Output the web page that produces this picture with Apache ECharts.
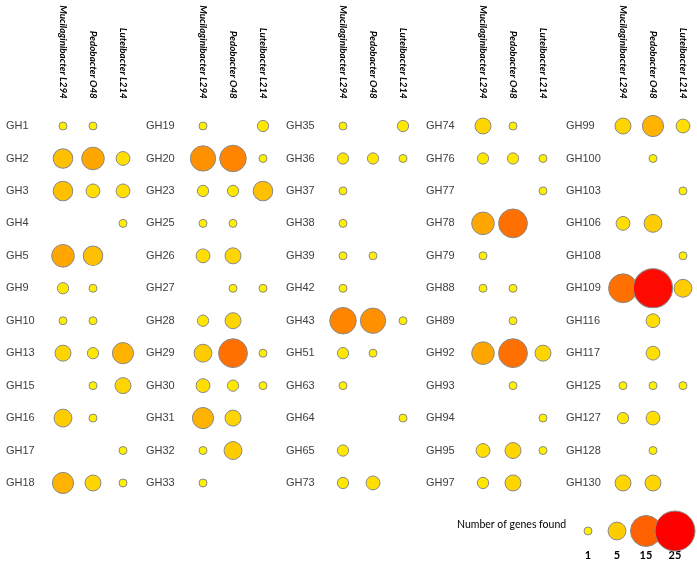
<!DOCTYPE html>
<html>
<head>
<meta charset="utf-8">
<script src="https://cdn.jsdelivr.net/npm/echarts@6/dist/echarts.min.js"></script>
<style>html,body{margin:0;padding:0;background:#fff;}#c{width:697px;height:562px;}</style>
</head>
<body>
<div id="c"></div>
<script>
// Column headers (organisms)
const organisms = ['Mucilaginibacter L294', 'Pedobacter O48', 'Luteibacter L214'];

// GH families, 5 panels of 12
const families = [
  'GH1','GH2','GH3','GH4','GH5','GH9','GH10','GH13','GH15','GH16','GH17','GH18',
  'GH19','GH20','GH23','GH25','GH26','GH27','GH28','GH29','GH30','GH31','GH32','GH33',
  'GH35','GH36','GH37','GH38','GH39','GH42','GH43','GH51','GH63','GH64','GH65','GH73',
  'GH74','GH76','GH77','GH78','GH79','GH88','GH89','GH92','GH93','GH94','GH95','GH97',
  'GH99','GH100','GH103','GH106','GH108','GH109','GH116','GH117','GH125','GH127','GH128','GH130'
];

// Number of genes found (0 = none)
const mucilaginibacter = [
  1,6,6,0,8,2,1,4,0,5,0,7,
  1,10,2,1,3,0,2,5,3,7,1,1,
  1,2,1,1,1,1,11,2,1,0,2,2,
  4,2,0,8,1,1,0,8,0,0,3,2,
  4,0,0,3,0,13,0,0,1,2,0,4
];
const pedobacter = [
  1,8,3,0,6,1,1,2,1,1,0,4,
  0,11,2,1,4,1,4,13,2,4,5,0,
  0,2,0,0,1,0,10,1,0,0,0,3,
  1,2,0,13,0,1,1,13,1,0,4,4,
  7,1,0,5,0,24,3,3,1,3,1,4
];
const luteibacter = [
  0,3,3,1,0,0,0,7,4,0,1,1,
  2,1,6,0,0,1,0,1,1,0,0,0,
  2,1,0,0,0,0,1,0,0,1,0,0,
  0,1,1,0,0,0,0,4,0,1,1,0,
  3,0,1,0,1,5,0,0,1,0,0,0
];

// Size legend
const legendValues = [1, 5, 15, 25];
const legendTitle = 'Number of genes found';

const panels = 5, rowsPerPanel = 12;
const grids = [], xAxes = [], yAxes = [], series = [];
const sizeFn = d => 8 * Math.sqrt(d[2]);
const itemStyle = { borderColor: '#8a8a8a', borderWidth: 1, opacity: 1 };

for (let p = 0; p < panels; p++) {
  grids.push({ left: 48 + 140 * p, top: 109.8, width: 90, height: 389.4, outerBoundsMode: 'none', containLabel: false });
  xAxes.push({
    type: 'category', gridIndex: p, position: 'top', data: organisms,
    axisLine: { show: false }, axisTick: { show: false }, splitLine: { show: false },
    axisLabel: { rotate: 90, interval: 0, margin: 11, fontSize: 9.8, fontStyle: 'italic', fontWeight: 'bold',
      fontFamily: 'Lato, "Liberation Sans", sans-serif', color: '#000' }
  });
  const labels = families.slice(p * rowsPerPanel, (p + 1) * rowsPerPanel);
  yAxes.push({
    type: 'category', gridIndex: p, inverse: true, data: labels,
    axisLine: { show: false }, axisTick: { show: false }, splitLine: { show: false },
    axisLabel: { align: 'left', margin: 42, interval: 0, fontSize: 11,
      fontFamily: '"Liberation Sans", Arial, sans-serif', color: '#404040' }
  });
  const data = [];
  [mucilaginibacter, pedobacter, luteibacter].forEach((arr, c) => {
    for (let r = 0; r < rowsPerPanel; r++) {
      const v = arr[p * rowsPerPanel + r];
      if (v > 0) data.push([c, r, v]);
    }
  });
  series.push({ type: 'scatter', xAxisIndex: p, yAxisIndex: p, data, symbolSize: sizeFn, itemStyle, silent: true });
}

// legend grid
grids.push({ left: 573.5, top: 521, width: 116, height: 20, outerBoundsMode: 'none', containLabel: false });
xAxes.push({
  type: 'category', gridIndex: panels, data: legendValues.map(String),
  axisLine: { show: false }, axisTick: { show: false }, splitLine: { show: false },
  axisLabel: { margin: 9, fontSize: 11, fontWeight: 'bold',
    fontFamily: 'Lato, "Liberation Sans", sans-serif', color: '#000' }
});
yAxes.push({ type: 'category', gridIndex: panels, data: [''], show: false });
series.push({
  type: 'scatter', xAxisIndex: panels, yAxisIndex: panels,
  data: legendValues.map((v, i) => [i, 0, v]), symbolSize: sizeFn, itemStyle, silent: true, z: 3
});

const chart = echarts.init(document.getElementById('c'), null, { renderer: 'canvas' });
chart.setOption({
  animation: false,
  backgroundColor: '#fff',
  title: {
    text: legendTitle, left: 452, top: 514,
    textStyle: { fontSize: 10.5, fontWeight: 'normal', color: '#000',
      fontFamily: 'Lato, "Liberation Sans", sans-serif' }
  },
  visualMap: {
    type: 'continuous', show: false, min: 1, max: 25, dimension: 2,
    seriesIndex: series.map((s, i) => i),
    inRange: { color: ['#FFF000', '#FFCC00', '#FF9A00', '#FF7000', '#FF5200', '#FF2800', '#FF0000'] }
  },
  grid: grids, xAxis: xAxes, yAxis: yAxes, series
});
</script>
</body>
</html>
